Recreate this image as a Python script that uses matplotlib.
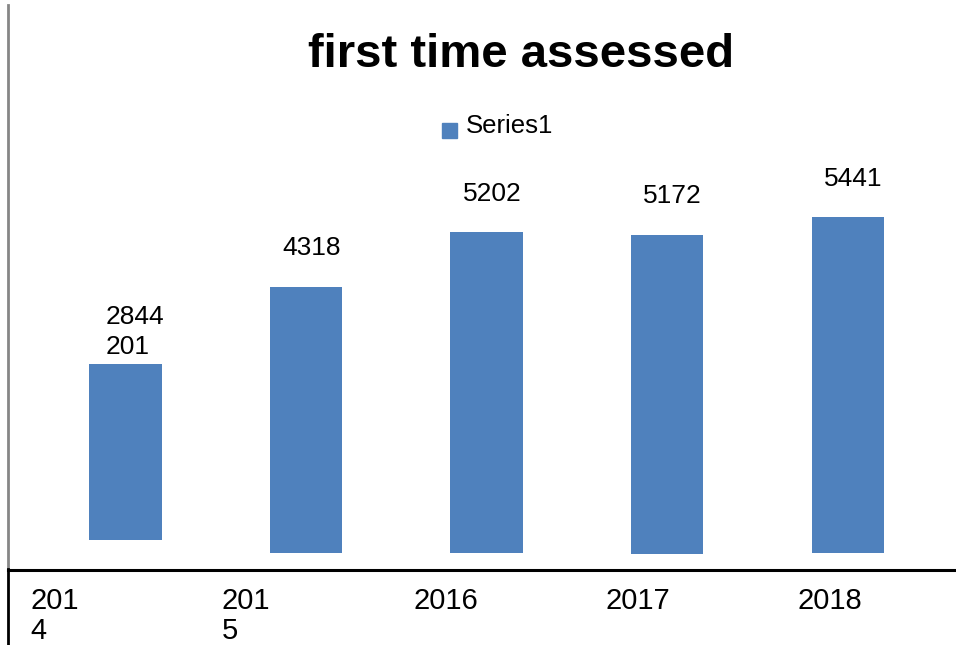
import matplotlib.pyplot as plt
from matplotlib.lines import Line2D
from matplotlib.patches import Rectangle

years = ["201\n4", "201\n5", "2016", "2017", "2018"]
values = [2844, 4318, 5202, 5172, 5441]
labels = ["2844\n201", "4318", "5202", "5172", "5441"]
# the bars do not share one baseline in the original
baseline_shift = [211, 0, 0, -16, 0]

plt.rcParams["font.family"] = ["Liberation Sans", "DejaVu Sans"]

fig = plt.figure(figsize=(9.56, 6.45), dpi=100)
ax = fig.add_axes([8 / 956, 75 / 645, 948 / 956, 565 / 645])

x = list(range(len(values)))
bars = ax.bar(x, values, width=0.40, bottom=baseline_shift, color="#4F81BD")

for i, b in enumerate(bars):
    top = b.get_y() + b.get_height()
    if i == 0:
        ax.annotate(labels[i], (b.get_x(), top), xytext=(12, 4),
                    textcoords="offset points", ha="left", va="bottom",
                    fontsize=19, linespacing=1.3)
    else:
        ax.annotate(labels[i], (b.get_x() + b.get_width() / 2, top),
                    xytext=(4, 19), textcoords="offset points",
                    ha="center", va="bottom", fontsize=19)

ax.set_xlim(-0.651, 4.60)
ax.set_ylim(-276, 8882)

tick_pos = [-0.529 + 1.063 * i for i in x]
ax.set_xticks(tick_pos)
ax.set_xticklabels(years, ha="left", va="top", fontsize=21, linespacing=1.1)
ax.tick_params(axis="x", length=0, pad=12)
ax.set_yticks([])

for s in ["top", "right"]:
    ax.spines[s].set_visible(False)
ax.spines["left"].set_color("#868686")
ax.spines["left"].set_linewidth(2)
ax.spines["bottom"].set_color("black")
ax.spines["bottom"].set_linewidth(2.2)

# left rule continues below the axis
fig.add_artist(Line2D([8 / 956, 8 / 956], [0, 76 / 645], color="black", lw=2))

fig.text(521 / 956, 1 - 55 / 645, "first time assessed", ha="center",
         va="center", fontsize=34, fontweight="bold")

# legend
fig.add_artist(Rectangle((442 / 956, 1 - 138 / 645), 15 / 956, 15 / 645,
                         color="#4F81BD", transform=fig.transFigure))
fig.text(466 / 956, 1 - 126 / 645, "Series1", ha="left", va="center",
         fontsize=18.5)

fig.savefig("out.png", dpi=100)
